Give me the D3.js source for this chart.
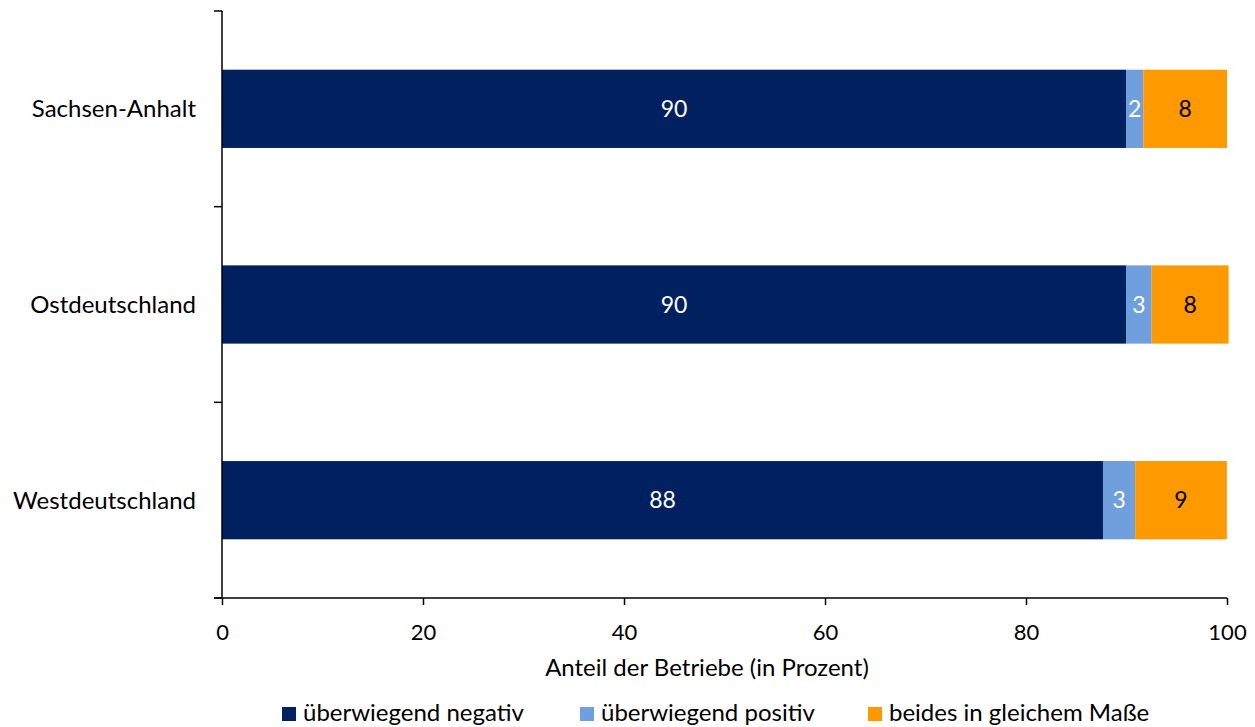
<!DOCTYPE html>
<html><head><meta charset="utf-8">
<script src="https://cdn.jsdelivr.net/npm/d3@7"></script>
<style>body{margin:0;background:#fff;} svg{display:block;font-family:Lato, "Open Sans", sans-serif;}</style>
</head><body>
<svg id="chart" width="1255" height="727"></svg>
<script>
const categories = ["Sachsen-Anhalt", "Ostdeutschland", "Westdeutschland"];
const seriesNames = ["überwiegend negativ", "überwiegend positiv", "beides in gleichem Maße"];
const negativ = [89.95, 89.95, 87.66];
const positiv = [1.72, 2.55, 3.2];
const beides = [8.33, 7.66, 9.13];
const labelsNegativ = [90, 90, 88];
const labelsPositiv = [2, 3, 3];
const labelsBeides = [8, 8, 9];
const xTicks = [0, 20, 40, 60, 80, 100];
const colors = ["#002060", "#6F9FDC", "#FF9900"];
const labelColors = ["#ffffff", "#ffffff", "#000000"];

const svg = d3.select("#chart");
const x = d3.scaleLinear().domain([0, 100]).range([222, 1227]);
const y = d3.scaleBand().domain(categories).range([11, 598]).paddingInner(0.6).paddingOuter(0.3);

const rows = categories.map((c, i) => ({cat: c, negativ: negativ[i], positiv: positiv[i], beides: beides[i]}));
const labels = [labelsNegativ, labelsPositiv, labelsBeides];
const keys = ["negativ", "positiv", "beides"];
const stack = d3.stack().keys(keys)(rows);

stack.forEach((layer, k) => {
  const g = svg.append("g");
  g.selectAll("rect").data(layer).join("rect")
    .attr("x", d => x(d[0]))
    .attr("width", d => x(d[1]) - x(d[0]))
    .attr("y", d => y(d.data.cat))
    .attr("height", y.bandwidth())
    .attr("fill", colors[k]);
  g.selectAll("text").data(layer).join("text")
    .attr("x", d => (x(d[0]) + x(d[1])) / 2)
    .attr("y", d => y(d.data.cat) + y.bandwidth() / 2)
    .attr("dy", "0.35em")
    .attr("text-anchor", "middle")
    .attr("font-size", 23)
    .attr("fill", labelColors[k])
    .text((d, i) => labels[k][i]);
});

// Y axis with ticks at band boundaries
const yAxisG = svg.append("g");
yAxisG.append("line").attr("x1", 222).attr("x2", 222).attr("y1", 11).attr("y2", 598).attr("stroke", "#000").attr("stroke-width", 1.5);
const step = (598 - 11) / categories.length;
d3.range(categories.length + 1).forEach(i => {
  yAxisG.append("line").attr("x1", 214).attr("x2", 222)
    .attr("y1", 11 + i * step).attr("y2", 11 + i * step)
    .attr("stroke", "#000").attr("stroke-width", 1.5);
});
yAxisG.selectAll("text.cat").data(categories).join("text")
  .attr("class", "cat")
  .attr("x", 196)
  .attr("y", d => y(d) + y.bandwidth() / 2)
  .attr("dy", "0.35em")
  .attr("text-anchor", "end")
  .attr("font-size", 24)
  .attr("fill", "#000")
  .text(d => d);

// X axis
const xAxis = d3.axisBottom(x).tickValues(xTicks).tickSize(7).tickPadding(19).tickSizeOuter(0);
const xg = svg.append("g").attr("transform", "translate(0,598)").call(xAxis);
xg.select(".domain").attr("stroke", "#000").attr("stroke-width", 1.5).attr("d", "M214,0H1227");
xg.selectAll(".tick line").attr("stroke", "#000").attr("stroke-width", 1.5);
xg.selectAll(".tick text").attr("font-size", 22).attr("fill", "#000").attr("font-family", "Lato, sans-serif");

svg.append("text").attr("x", 707).attr("y", 676).attr("text-anchor", "middle")
  .attr("font-size", 24).attr("fill", "#000").text("Anteil der Betriebe (in Prozent)");

// Legend
const legendX = [282, 580, 868];
const lg = svg.append("g");
seriesNames.forEach((n, i) => {
  lg.append("rect").attr("x", legendX[i]).attr("y", 707).attr("width", 14).attr("height", 14).attr("fill", colors[i]);
  lg.append("text").attr("x", legendX[i] + 21).attr("y", 721)
    .attr("font-size", 24).attr("fill", "#000").text(n);
});
</script>
</body></html>
